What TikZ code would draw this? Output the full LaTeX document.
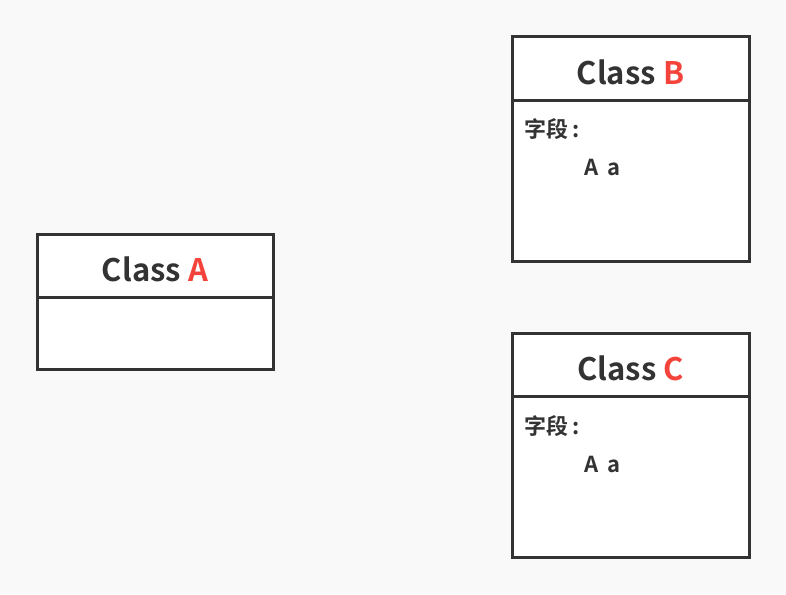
\documentclass[tikz,border=0pt]{standalone}
\usepackage{fontspec}
\setmainfont{Noto Sans CJK SC}[BoldFont={* Bold}]
\definecolor{bgc}{HTML}{F9F9F9}
\definecolor{ink}{HTML}{333333}
\definecolor{hl}{HTML}{F4433A}
\begin{document}
\begin{tikzpicture}[x=1pt,y=-1pt,
  box/.style={draw=ink,line width=3pt,fill=white},
  sep/.style={draw=ink,line width=3pt},
  title/.style={font=\bfseries\fontsize{31}{34}\selectfont,text=ink,inner sep=0pt,anchor=base},
  field/.style={font=\bfseries\fontsize{22}{26}\selectfont,text=ink,inner sep=0pt,anchor=base west}]
\fill[bgc] (0,0) rectangle (786,594);
\useasboundingbox (0,0) rectangle (786,594);
% Class A
\draw[box] (37,234) rectangle (273,369);
\draw[sep] (37,297) -- (273,297);
\node[title] (ta) at (155,281) {Class \textcolor{hl}{A}};
% Class B
\draw[box] (512,37) rectangle (749,261);
\draw[sep] (512,100) -- (749,100);
\node[title] (tb) at (630.5,84) {Class \textcolor{hl}{B}};
\node[field] (fb) at (524,137) {字段\hspace{4pt}:};
\node[field] (vb) at (584,175) {A\hspace{4pt} a};
% Class C
\draw[box] (512,333) rectangle (749,557);
\draw[sep] (512,396) -- (749,396);
\node[title] (tc) at (630.5,380) {Class \textcolor{hl}{C}};
\node[field] (fc) at (524,434) {字段\hspace{4pt}:};
\node[field] (vc) at (584,472) {A\hspace{4pt} a};
\end{tikzpicture}
\end{document}
